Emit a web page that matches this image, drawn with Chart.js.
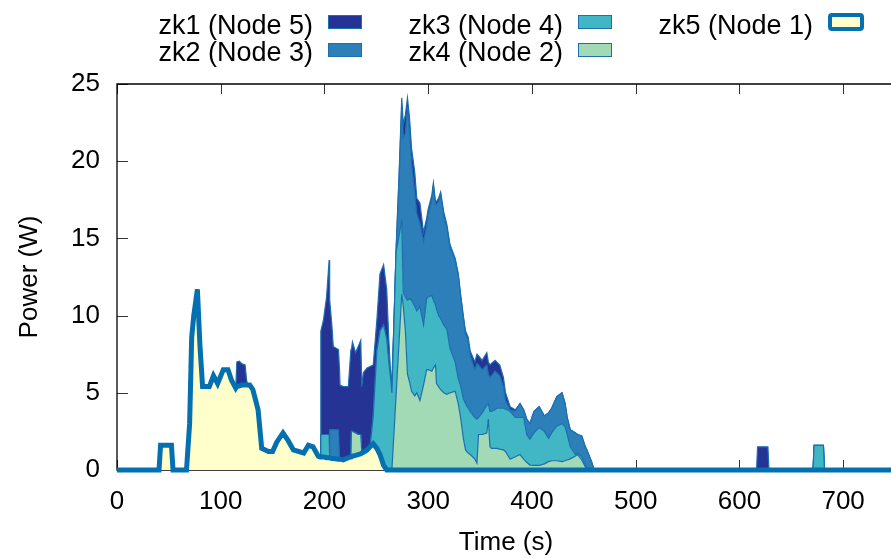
<!DOCTYPE html>
<html>
<head>
<meta charset="utf-8">
<script src="https://cdn.jsdelivr.net/npm/chart.js@4.4.1/dist/chart.umd.min.js"></script>
<style>
  body { margin: 0; background: #fff; overflow: hidden; width: 891px; height: 558px; position: relative;
         font-family: "Liberation Sans", Arial, sans-serif; }
  #wrap { position: absolute; left: 0; top: 0; width: 905px; height: 558px; }
  .lbl { position: absolute; width: 200px; text-align: right; font-size: 27px; line-height: 28px; color: #000; white-space: nowrap; }
  .box { position: absolute; box-sizing: border-box; width: 34px; height: 14px; border: 1px solid #1c6fae; }
</style>
</head>
<body>
<div id="wrap"><canvas id="powerChart" width="905" height="558"></canvas></div>
<div id="key"></div>
<script>
// ----- Data (seconds, watts) -----
const times = [
  0, 40.5, 42, 52.5, 54, 67, 70, 72, 74, 77.5, 80, 82.5, 89, 93, 97, 102.5, 107, 110.5, 114.5, 115.5,
  118, 120, 123.5, 125, 126, 128, 131, 136, 139.5, 146, 150, 154, 160, 165, 170, 180, 184.5, 189, 194, 196,
  196.5, 199, 202, 204.5, 205, 207, 208.5, 213.5, 214.5, 215, 218, 223, 225.5, 226, 227, 230, 232.5, 235, 236, 237.5,
  241, 244, 247, 250.5, 253.5, 257, 260, 262, 264, 265,
  267, 269, 272, 274.5, 276, 278, 280, 282, 284, 287, 289, 292, 295.5, 298.5, 300, 303.5, 305, 307, 308, 310,
  312, 315, 318, 321, 326, 329, 331, 334, 336, 338.5, 340.5, 345, 347, 348.5, 352, 356.5, 358, 359.5, 361, 364.5,
  366, 369, 372.5, 374.5, 379, 384, 388.5, 392, 395, 398, 402, 407, 412, 416, 419, 424, 429, 432, 434, 437,
  442, 444, 448, 451.5, 453, 457.5, 460,
  616.5, 617.5, 627.5, 628.5, 671, 672, 681, 682, 750
];

const zk5 = [
  0, 0, 1.6, 1.6, 0, 0, 3, 8.6, 10, 11.7, 8, 5.4, 5.4, 6.1, 5.6, 6.5, 6.5, 5.8, 5.3, 5.4,
  5.45, 5.5, 5.5, 5.5, 5.5, 5.5, 5.2, 3.9, 1.4, 1.2, 1.2, 1.8, 2.4, 1.9, 1.3, 1.1, 1.6, 1.5, 0.9, 0.85,
  0.85, 0.85, 0.8, 0.8, 0.8, 0.75, 0.75, 0.7, 0.7, 0.7, 0.65, 0.8, 0.85, 0.85, 0.9, 0.95, 1.0, 1.05, 1.1, 1.15,
  1.3, 1.5, 1.7, 1.4, 1.0, 0.3, 0, 0, 0, 0,
  0, 0, 0, 0, 0, 0, 0, 0, 0, 0, 0, 0, 0, 0, 0, 0, 0, 0, 0, 0,
  0, 0, 0, 0, 0, 0, 0, 0, 0, 0, 0, 0, 0, 0, 0, 0, 0, 0, 0, 0,
  0, 0, 0, 0, 0, 0, 0, 0, 0, 0, 0, 0, 0, 0, 0, 0, 0, 0, 0, 0,
  0, 0, 0, 0, 0, 0, 0,
  0, 0, 0, 0, 0, 0, 0, 0, 0
];

const zk4 = [
  0, 0, 0, 0, 0, 0, 0, 0, 0, 0, 0, 0, 0, 0, 0, 0, 0, 0, 0, 0,
  0, 0, 0, 0, 0, 0, 0, 0, 0, 0, 0, 0, 0, 0, 0, 0, 0, 0, 0, 0,
  0, 0, 0, 0, 0, 0, 0, 0, 0, 0, 0, 0, 0, 1.65, 1.6, 1.45, 1.3, 1.25, 0, 0,
  0, 0, 0, 0, 0, 0, 0, 0, 0, 0,
  2.4, 4.8, 8.4, 11.4, 10.6, 9.0, 6.2, 5.7, 5.1, 4.8, 5.0, 4.5, 5.5, 6.5, 6.5, 6.4, 6.6, 6.8, 5.6, 5.4,
  5.2, 5.0, 4.9, 5.0, 5.1, 4.3, 3.5, 2.0, 1.3, 1.1, 1.0, 0.7, 0.45, 2.3, 2.3, 2.4, 3.3, 1.5, 1.4, 1.4,
  1.4, 1.35, 1.3, 1.2, 0.7, 0.86, 1.0, 0.7, 0.5, 0.32, 0.3, 0.3, 0.4, 0.54, 0.6, 0.6, 0.54, 0.6, 0.65, 0.72,
  0.9, 1.0, 0.65, 0.2, 0, 0, 0,
  0, 0, 0, 0, 0, 0, 0, 0, 0
];

const zk3 = [
  0, 0, 0, 0, 0, 0, 0, 0, 0, 0, 0, 0, 0, 0, 0, 0, 0, 0, 0, 0,
  0, 0, 0, 0, 0, 0, 0, 0, 0, 0, 0, 0, 0, 0, 0, 0, 0, 0, 0, 0,
  1.45, 1.45, 1.5, 1.5, 0, 0, 0, 0, 0, 0, 0, 0, 0, 0, 0, 0, 0, 0, 0, 0,
  0, 0, 1.8, 6.3, 8.0, 9.1, 8.5, 7.0, 5.8, 5.0,
  7.1, 9.3, 6.8, 4.8, 0.9, 2.2, 4.8, 5.4, 5.9, 5.8, 5.3, 6.1, 3.9, 4.6, 4.7, 4.9, 4.4, 3.9, 4.8, 4.6,
  4.6, 4.4, 4.2, 2.9, 1.9, 1.6, 2.0, 2.6, 3.0, 2.9, 2.8, 2.7, 2.85, 1.1, 1.4, 1.8, 1.0, 2.3, 2.4, 2.5,
  2.6, 2.65, 2.7, 2.75, 3.1, 2.54, 2.4, 2.7, 1.8, 1.68, 2.1, 2.45, 2.1, 1.51, 1.8, 2.25, 2.46, 2.2, 1.65, 0.78,
  0.1, 0.1, 0.2, 0.1, 0.15, 0, 0,
  0, 0, 0, 0, 0, 1.6, 1.6, 0, 0
];

const zk2 = [
  0, 0, 0, 0, 0, 0, 0, 0, 0, 0, 0, 0, 0, 0, 0, 0, 0, 0, 0, 0,
  0, 0, 0, 0, 0, 0, 0, 0, 0, 0, 0, 0, 0, 0, 0, 0, 0, 0, 0, 0,
  0, 0, 0, 0, 1.8, 1.85, 1.85, 1.9, 0, 0, 0, 0, 0, 0, 0, 0, 0, 0, 0, 0,
  0, 0, 0, 0, 0, 0, 0, 0, 0, 0,
  0, 0, 3.8, 7.4, 10.0, 10.6, 12.5, 10.8, 8.8, 7.4, 6.3, 5.4, 5.4, 4.7, 5.3, 6.2, 7.4, 6.5, 6.8, 7.4,
  8.0, 7.0, 6.6, 6.5, 6.6, 6.7, 5.9, 5.2, 4.5, 4.4, 3.6, 3.1, 3.6, 3.4, 2.8, 2.6, 1.9, 2.2, 2.3, 2.5,
  2.3, 2.1, 1.4, 0.55, 0.1, 0.4, 0.9, 0.5, 1.0, 1.0, 1.4, 1.35, 1.0, 1.65, 1.6, 1.9, 2.0, 1.5, 1.1, 1.1,
  1.4, 1.2, 1.35, 1.2, 1.15, 0.54, 0,
  0, 0, 0, 0, 0, 0, 0, 0, 0
];

const zk1 = [
  0, 0, 0, 0, 0, 0, 0, 0, 0, 0, 0, 0, 0, 0, 0, 0, 0, 0, 0, 1.6,
  1.6, 1.4, 1.3, 0.3, 0, 0, 0, 0, 0, 0, 0, 0, 0, 0, 0, 0, 0, 0, 0, 0,
  6.7, 7.4, 8.9, 11.3, 8.4, 6.9, 5.4, 5.2, 5.8, 4.8, 4.75, 4.6, 6.95, 5.3, 5.8, 5.2, 5.7, 6.1, 4.3, 5.15,
  5.3, 5.2, 3.3, 2.0, 3.7, 3.9, 3.2, 1.5, 0.2, 0.9,
  0.1, 0.1, 0.3, 0.5, 0.9, 1.2, 0.6, 0.9, 1.0, 1.3, 1.0, 1.3, 0.6, 0.5, 0.4, 0.3, 0.2, 0.2, 0.2, 0.2,
  0.2, 0.3, 0.2, 0.2, 0.1, 0.1, 0.1, 0.1, 0.2, 0.2, 0.3, 0.5, 0.6, 0.6, 0.6, 0.8, 0.8, 0.8, 0.8, 0.7,
  0.7, 0.7, 0.6, 0.5, 0.2, 0.1, 0, 0, 0, 0, 0, 0, 0, 0, 0, 0, 0, 0, 0, 0,
  0, 0, 0, 0, 0, 0, 0,
  0, 1.5, 1.5, 0, 0, 0, 0, 0, 0
];

const names = ['zk1 (Node 5)', 'zk2 (Node 3)', 'zk3 (Node 4)', 'zk4 (Node 2)', 'zk5 (Node 1)'];
const fills = ['#253494', '#2c7fb8', '#41b6c4', '#a1dab4', '#ffffcc'];
const series = [zk1, zk2, zk3, zk4, zk5];
const xTicks = [0, 100, 200, 300, 400, 500, 600, 700];
const yTicks = [0, 5, 10, 15, 20, 25];

// ----- Legend (gnuplot style: text then sample) -----
const key = document.getElementById('key');
names.forEach((n, k) => {
    const col = Math.floor(k / 2), row = k % 2;
    const lbl = document.createElement('div');
    lbl.className = 'lbl';
    lbl.textContent = n;
    lbl.style.left = (113 + col * 250) + 'px';
    lbl.style.top = (11 + row * 27) + 'px';
    key.appendChild(lbl);
    const box = document.createElement('div');
    box.className = 'box';
    box.style.left = (328 + col * 250) + 'px';
    box.style.top = (15 + row * 28) + 'px';
    box.style.background = fills[k];
    if(k === 4){
        box.style.border = '4px solid #0570b0';
        box.style.borderRadius = '4px';
        box.style.width = '36px';
        box.style.height = '18px';
        box.style.top = '13px';
    }
    key.appendChild(box);
});

// ----- Frame + inward ticks -----
const frame = {
    id: 'frame',
    beforeDatasetsDraw(chart) {
        const {ctx, chartArea: a, scales: {x, y}} = chart;
        ctx.save();
        ctx.strokeStyle = '#333';
        ctx.lineWidth = 1;
        ctx.beginPath();
        xTicks.forEach(v => {
            const px = Math.round(x.getPixelForValue(v)) + 0.5;
            ctx.moveTo(px, a.bottom); ctx.lineTo(px, a.bottom - 10);
            ctx.moveTo(px, a.top); ctx.lineTo(px, a.top + 10);
        });
        yTicks.forEach(v => {
            const py = Math.round(y.getPixelForValue(v)) + 0.5;
            ctx.moveTo(a.left, py); ctx.lineTo(a.left + 11, py);
        });
        ctx.stroke();
        ctx.strokeStyle = '#000';
        ctx.lineWidth = 1.3;
        ctx.beginPath();
        ctx.moveTo(a.right, a.top);
        ctx.lineTo(a.left, a.top);
        ctx.lineTo(a.left, a.bottom);
        ctx.lineTo(a.right, a.bottom);
        ctx.stroke();
        ctx.restore();
    }
};

// ----- Stacked area chart (zk5 at the bottom) -----
const font = {family: '"Liberation Sans", Arial, sans-serif', size: 26};
const datasets = [4, 3, 2, 1, 0].map((k, i) => ({
    label: names[k],
    data: times.map((t, j) => ({x: t, y: series[k][j]})),
    backgroundColor: fills[k],
    borderColor: k === 4 ? '#0570b0' : '#1c6fae',
    borderWidth: k === 4 ? 5 : 1.2,
    fill: i === 0 ? 'origin' : '-1',
    clip: k === 4 ? {left: 0, top: 4, right: 0, bottom: 4} : undefined,
    pointRadius: 0,
    tension: 0
}));

new Chart(document.getElementById('powerChart'), {
    type: 'line',
    data: { datasets },
    plugins: [frame],
    options: {
        responsive: false,
        animation: false,
        layout: { padding: { left: 0, top: 84, right: 10, bottom: 0 } },
        plugins: { legend: { display: false }, tooltip: { enabled: false } },
        scales: {
            x: {
                type: 'linear', min: 0, max: 750,
                grid: { display: false, drawTicks: false, tickLength: 0 },
                border: { display: false },
                ticks: { stepSize: 100, includeBounds: false, autoSkip: false, maxRotation: 0, padding: 16, color: '#000', font },
                title: { display: true, text: 'Time (s)', color: '#000', font, padding: { top: 0, bottom: 0 } },
                afterFit: s => { s.height = 88; }
            },
            y: {
                stacked: true, min: 0, max: 25,
                grid: { display: false, drawTicks: false, tickLength: 0 },
                border: { display: false },
                ticks: { stepSize: 5, padding: 17, color: '#000', font },
                title: { display: true, text: 'Power (W)', color: '#000', font, padding: { top: 14, bottom: 0 } },
                afterFit: s => { s.width = 117; }
            }
        }
    }
});
</script>
</body>
</html>
